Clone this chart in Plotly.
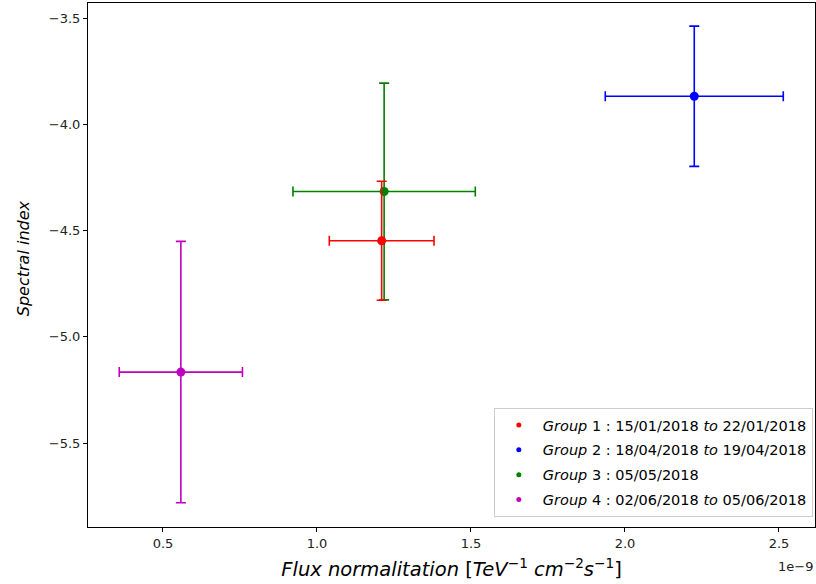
import plotly.graph_objects as go

labels = ["<i>Group</i> 1 : 15/01/2018 <i>to</i> 22/01/2018",
          "<i>Group</i> 2 : 18/04/2018 <i>to</i> 19/04/2018",
          "<i>Group</i> 3 : 05/05/2018",
          "<i>Group</i> 4 : 02/06/2018 <i>to</i> 05/06/2018"]
colors = ["#ff0000", "#0000ff", "#008000", "#bf00bf"]
flux = [1.21e-9, 2.225e-9, 1.218e-9, 0.558e-9]
flux_err = [0.17e-9, 0.289e-9, 0.296e-9, 0.20e-9]
index = [-4.548, -3.868, -4.316, -5.166]
index_err = [0.28, 0.33, 0.51, 0.615]
scale = 1e-9
xticks = [0.5, 1.0, 1.5, 2.0, 2.5]
yticks = [-3.5, -4.0, -4.5, -5.0, -5.5]

font_family = "DejaVu Sans"
fig = go.Figure()

# data traces (drawn order: 4, 2, 3, 1)
for i in [3, 1, 2, 0]:
    fig.add_trace(go.Scatter(
        x=[flux[i] / scale], y=[index[i]], mode="markers",
        marker=dict(color=colors[i], size=9),
        error_x=dict(type="data", array=[flux_err[i] / scale], color=colors[i], thickness=1.6, width=5),
        error_y=dict(type="data", array=[index_err[i]], color=colors[i], thickness=1.6, width=5),
        showlegend=False, hoverinfo="skip"))

# legend entries
for i in range(4):
    fig.add_trace(go.Scatter(
        x=[None], y=[None], mode="markers",
        marker=dict(color=colors[i], size=5),
        name=labels[i], showlegend=True, legendgroup=f"g{i}"))

axis_common = dict(showline=True, mirror=True, linecolor="black", linewidth=1,
                   ticks="outside", ticklen=4, tickcolor="black", showgrid=False,
                   zeroline=False, automargin=False,
                   tickfont=dict(family=font_family, size=13, color="#222"))

sup = lambda s: f"<sup>{s}</sup>"
xtitle = ("<i>Flux normalitation</i> [<i>TeV</i>" + sup("−1") + " <i>cm</i>" + sup("−2")
          + "<i>s</i>" + sup("−1") + "]")

fig.update_layout(
    width=816, height=584,
    margin=dict(l=88, r=1, t=3, b=57, autoexpand=False),
    plot_bgcolor="white", paper_bgcolor="white",
    font=dict(family=font_family, color="black"),
    xaxis=dict(range=[0.2565, 2.617], tickvals=xticks,
               ticktext=[f"{v:.1f}" for v in xticks],
               title=dict(text=xtitle, font=dict(size=19.5), standoff=12),
               **axis_common),
    yaxis=dict(range=[-5.895, -3.429], tickvals=yticks,
               ticktext=[f"{v:.1f}".replace("-", "−") for v in yticks],
               **axis_common),
    legend=dict(x=0.997, y=0.019, xanchor="right", yanchor="bottom",
                bgcolor="rgba(255,255,255,0.8)", bordercolor="#cccccc", borderwidth=1,
                font=dict(family=font_family, size=14.5), itemwidth=38,
                traceorder="grouped", tracegroupgap=3),
    annotations=[
        dict(text="1e−9", xref="paper", yref="paper", x=1.0, y=-0.057,
             xanchor="right", yanchor="top", showarrow=False,
             font=dict(family=font_family, size=13, color="#222")),
        dict(text="<i>Spectral index</i>", xref="paper", yref="paper",
             x=-0.0894, y=0.513, xanchor="center", yanchor="middle",
             textangle=-90, showarrow=False,
             font=dict(family=font_family, size=16, color="black")),
    ],
)

fig.write_html("out.html", config={"displayModeBar": False},
               post_script="document.body.style.margin='0';document.body.style.overflow='hidden';")
